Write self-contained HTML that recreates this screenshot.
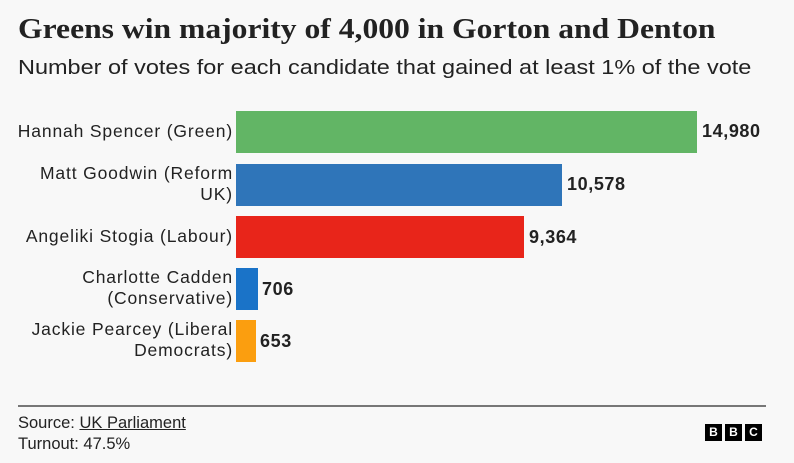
<!DOCTYPE html>
<html><head><meta charset="utf-8"><style>
body{margin:0;width:794px;height:463px;background:#f8f8f8;position:relative;overflow:hidden;font-family:"Liberation Sans",sans-serif;color:#222}
.a{position:absolute;white-space:nowrap}
.t{left:18px;top:13px;font-family:"Liberation Serif",serif;font-weight:bold;font-size:29px;color:#222;transform:scaleX(1.09);transform-origin:left}
.s{left:18px;top:56px;font-size:20.5px;color:#222;transform:scaleX(1.145);transform-origin:left}
.bar{position:absolute;left:236px;height:42px}
.lab{position:absolute;right:561px;text-align:right;font-size:17.5px;letter-spacing:0.85px;line-height:21px;color:#222;white-space:nowrap}
.v{position:absolute;font-weight:bold;font-size:18px;letter-spacing:0.6px;color:#222}
.bb{position:absolute;top:424px;width:17px;height:17px;background:#000;color:#fff;font-weight:bold;font-size:12px;text-align:center;line-height:17px}
</style></head><body>
<div class="a t">Greens win majority of 4,000 in Gorton and Denton</div>
<div class="a s">Number of votes for each candidate that gained at least 1% of the vote</div>
<div class="bar" style="top:111px;width:461px;background:#62b565"></div>
<div class="bar" style="top:164px;width:326px;background:#2f75b9"></div>
<div class="bar" style="top:216px;width:288px;background:#e8251a"></div>
<div class="bar" style="top:268px;width:22px;background:#1a73c8"></div>
<div class="bar" style="top:320px;width:20px;background:#fb9e0f"></div>
<div class="lab" style="top:121px">Hannah Spencer (Green)</div>
<div class="lab" style="top:163px">Matt Goodwin (Reform<br>UK)</div>
<div class="lab" style="top:226px">Angeliki Stogia (Labour)</div>
<div class="lab" style="top:267px">Charlotte Cadden<br>(Conservative)</div>
<div class="lab" style="top:319px">Jackie Pearcey (Liberal<br>Democrats)</div>
<div class="v" style="left:702px;top:121px">14,980</div>
<div class="v" style="left:567px;top:174px">10,578</div>
<div class="v" style="left:529px;top:227px">9,364</div>
<div class="v" style="left:262px;top:279px">706</div>
<div class="v" style="left:260px;top:331px">653</div>
<div class="a" style="left:18px;top:405px;width:748px;height:2px;background:#777"></div>
<div class="a" style="left:18px;top:414px;font-size:16.5px">Source: <span style="text-decoration:underline">UK Parliament</span></div>
<div class="a" style="left:18px;top:435px;font-size:16.5px">Turnout: 47.5%</div>
<div class="bb" style="left:705px">B</div>
<div class="bb" style="left:725px">B</div>
<div class="bb" style="left:745px">C</div>
</body></html>
